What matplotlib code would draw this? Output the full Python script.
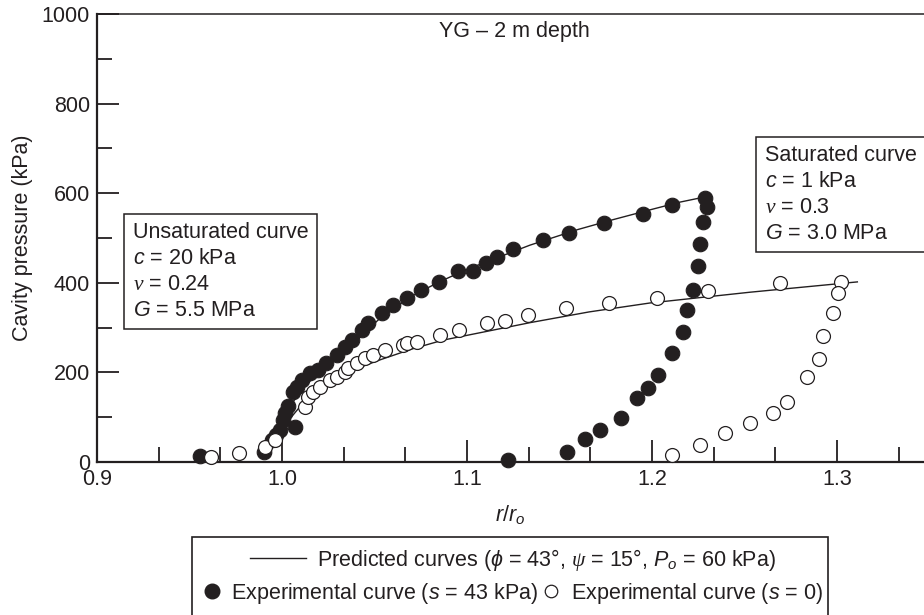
import matplotlib
matplotlib.use("Agg")
import matplotlib.pyplot as plt
from matplotlib.lines import Line2D
from matplotlib.patches import Rectangle
from matplotlib.ticker import MultipleLocator

plt.rcParams["font.family"] = ["Liberation Sans", "DejaVu Sans"]
plt.rcParams["mathtext.fontset"] = "custom"
plt.rcParams["mathtext.rm"] = "Liberation Sans"
plt.rcParams["mathtext.it"] = "Liberation Sans:italic"
plt.rcParams["mathtext.sf"] = "Liberation Serif:italic"
plt.rcParams["mathtext.fallback"] = "stix"

INK = "#231f20"
FS = 15.5

# experimental curve, s = 43 kPa (filled)
x_filled = [0.9557, 0.990, 0.9946, 0.997, 0.999, 1.0005, 1.0016, 1.0035, 1.007, 1.006,
            1.008, 1.011, 1.015, 1.0195, 1.024, 1.0297, 1.034, 1.038, 1.043, 1.0465,
            1.054, 1.060, 1.0676, 1.075, 1.085, 1.095, 1.103, 1.110, 1.116, 1.125,
            1.141, 1.155, 1.174, 1.195, 1.211, 1.2286, 1.2297, 1.2276, 1.226, 1.225,
            1.222, 1.219, 1.217, 1.211, 1.203, 1.198, 1.192, 1.183, 1.172, 1.164,
            1.154, 1.122]
y_filled = [13, 22, 49, 60, 71, 94, 109, 125, 78, 156,
            167, 183, 198, 205, 221, 239, 257, 272, 295, 310,
            333, 350, 366, 384, 402, 427, 427, 445, 458, 475,
            496, 511, 534, 553, 574, 589, 569, 536, 487, 437,
            384, 339, 290, 243, 194, 166, 143, 98, 71, 51,
            22, 4]

# experimental curve, s = 0 (open)
x_open = [0.9616, 0.977, 0.991, 0.996, 1.0124, 1.014, 1.017, 1.0205, 1.026, 1.0297,
          1.034, 1.0357, 1.0405, 1.045, 1.049, 1.0557, 1.0654, 1.0676, 1.073, 1.0854,
          1.0957, 1.111, 1.1205, 1.133, 1.1535, 1.177, 1.2027, 1.230, 1.269, 1.302,
          1.3005, 1.298, 1.2924, 1.290, 1.284, 1.273, 1.2654, 1.253, 1.2395, 1.226,
          1.211]
y_open = [11, 20, 34, 49, 123, 145, 156, 167, 183, 190,
          201, 210, 221, 232, 239, 250, 261, 266, 268, 284,
          295, 310, 315, 328, 344, 355, 367, 382, 400, 402,
          377, 332, 281, 230, 190, 134, 109, 87, 65, 38,
          16]

# predicted curves
x_pred_unsat = [0.99, 1.0, 1.01, 1.02, 1.03, 1.04, 1.053, 1.07, 1.085, 1.10,
                1.134, 1.16, 1.179, 1.20, 1.215, 1.229]
y_pred_unsat = [15, 95, 160, 200, 236, 270, 321, 370, 402, 430,
                484, 519, 541, 564, 580, 592]
x_pred_sat = [0.99, 1.0, 1.01, 1.02, 1.03, 1.04, 1.053, 1.07, 1.087, 1.11,
              1.134, 1.166, 1.199, 1.253, 1.311]
y_pred_sat = [15, 75, 125, 162, 190, 208, 228, 252, 272, 291,
              311, 335, 355, 379, 402]

unsat_text = "Unsaturated curve\n$c$ = 20 kPa\n$\\mathsf{\\nu}$ = 0.24\n$G$ = 5.5 MPa"
sat_text = "Saturated curve\n$c$ = 1 kPa\n$\\mathsf{\\nu}$ = 0.3\n$G$ = 3.0 MPa"
pred_label = ("Predicted curves ($\\phi$ = 43\u00b0, $\\mathsf{\\psi}$ = 15\u00b0, "
              "$P_o$ = 60 kPa)")

fig = plt.figure(figsize=(9.24, 6.15), dpi=100)
ax = fig.add_axes([97 / 924, 153 / 615, 1 - 97 / 924, 448 / 615])

ax.plot(x_pred_unsat, y_pred_unsat, color=INK, lw=1.0, zorder=2)
ax.plot(x_pred_sat, y_pred_sat, color=INK, lw=1.0, zorder=2)
ax.plot(x_filled, y_filled, "o", ms=10.5, mfc=INK, mec=INK, mew=0.8,
        ls="none", zorder=3, clip_on=False)
ax.plot(x_open, y_open, "o", ms=10, mfc="white", mec=INK, mew=0.9,
        ls="none", zorder=4, clip_on=False)

ax.set_xlim(0.9, 0.9 + 827 / 1850)
ax.set_ylim(0, 1000)
ax.xaxis.set_minor_locator(MultipleLocator(0.1 / 3))
ax.yaxis.set_major_locator(MultipleLocator(200))
ax.yaxis.set_minor_locator(MultipleLocator(100))
ax.set_xticks([0.9, 1.0, 1.1, 1.2, 1.3])
ax.set_xticklabels(["0.9", "1.0", "1.1", "1.2", "1.3"])

ax.tick_params(which="both", direction="in", width=1.3, colors=INK,
               labelsize=FS, pad=5, right=False, top=False)
ax.tick_params(which="major", length=15.5)
ax.tick_params(which="minor", length=10.5)

ax.spines["right"].set_visible(False)
ax.spines["left"].set_linewidth(1.6)
ax.spines["bottom"].set_linewidth(1.6)
ax.spines["top"].set_linewidth(1.1)
for s in ax.spines.values():
    s.set_color(INK)

ax.set_ylabel("Cavity pressure (kPa)", fontsize=FS, color=INK, labelpad=6)
ax.set_xlabel("$r$/$r_o$", fontsize=FS, color=INK, labelpad=10)

ax.text(1.1254, 960, "YG \u2013 2 m depth", ha="center", va="center",
        fontsize=FS, color=INK)

box = dict(boxstyle="square,pad=0.4", fc="white", ec=INK, lw=1.1)
ax.text(0.9195, 535, unsat_text, ha="left", va="top", fontsize=FS,
        color=INK, linespacing=1.3, bbox=box, zorder=5)
ax.text(1.2611, 707, sat_text, ha="left", va="top", fontsize=FS,
        color=INK, linespacing=1.3, bbox=box, zorder=5)

# legend frame below the axes
fig.patches.append(Rectangle((192 / 924, -0.05), 636 / 924, 0.05 + 78 / 615,
                             transform=fig.transFigure, fill=False,
                             ec=INK, lw=1.2))

h_line = Line2D([], [], color=INK, lw=1.0)
h_filled = Line2D([], [], marker="o", ls="none", ms=10.5, mfc=INK, mec=INK)
h_open = Line2D([], [], marker="o", ls="none", ms=9, mfc="white", mec=INK, mew=0.9)

fig.legend([h_line], [pred_label],
           loc="center", bbox_to_anchor=(513 / 924, (615 - 560) / 615),
           frameon=False, fontsize=FS, handlelength=2.6, handletextpad=0.5,
           borderpad=0, labelcolor=INK)
fig.legend([h_filled, h_open],
           ["Experimental curve ($s$ = 43 kPa)", "Experimental curve ($s$ = 0)"],
           loc="center", bbox_to_anchor=(513 / 924, (615 - 593) / 615),
           ncol=2, frameon=False, fontsize=FS, handlelength=0.8,
           handletextpad=0.5, columnspacing=0.2, borderpad=0, labelcolor=INK)

fig.savefig("out.png", dpi=100)
